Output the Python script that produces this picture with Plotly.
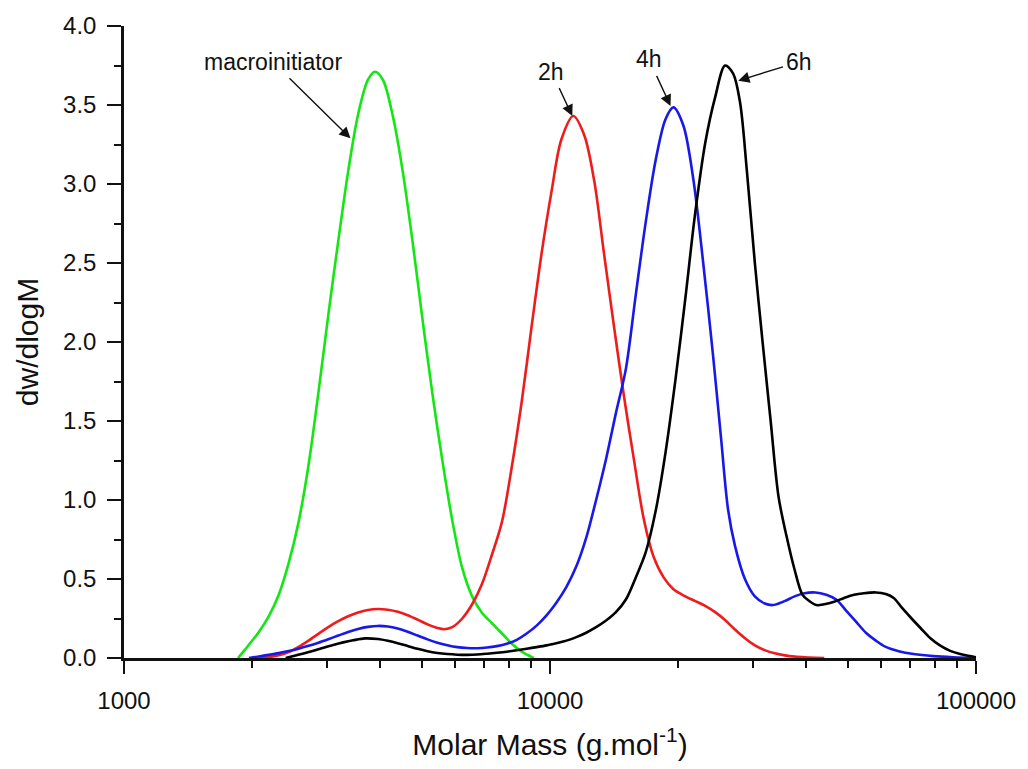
import plotly.graph_objects as go

# ---------------- data ----------------
M_macro = [1852, 1913, 1965, 2073, 2188, 2308, 2435, 2569, 2711, 2860, 3017, 3184, 3359,
           3544, 3739, 3881, 4052, 4276, 4511, 4760, 5022, 5298, 5589, 5897, 6222,
           6565, 6927, 7309, 7710, 8135, 8580, 9154]
w_macro = [0.0, 0.045, 0.085, 0.165, 0.265, 0.40, 0.60, 0.86, 1.22, 1.68, 2.17, 2.64, 3.08,
           3.44, 3.66, 3.71, 3.66, 3.43, 3.08, 2.63, 2.14, 1.67, 1.25, 0.87, 0.57,
           0.39, 0.285, 0.22, 0.155, 0.09, 0.04, 0.0]

M_2h = [2073, 2188, 2308, 2435, 2569, 2711, 2860, 3017, 3184, 3359, 3544, 3739, 3945,
        4162, 4391, 4633, 4888, 5158, 5441, 5649, 5897, 6222, 6565, 6927, 7309, 7710,
        8135, 8580, 9056, 9555, 10080, 10630, 11340, 12030, 12700, 13390, 14130, 14910,
        15730, 16600, 17510, 18480, 19490, 20790, 21930, 23140, 24420, 25760, 27180,
        28680, 30260, 31920, 33690, 36500, 40630, 44040]
w_2h = [0.0, 0.006, 0.017, 0.037, 0.07, 0.11, 0.153, 0.196, 0.233, 0.264, 0.288, 0.304, 0.31,
        0.305, 0.292, 0.271, 0.243, 0.213, 0.19, 0.182, 0.195, 0.25, 0.34, 0.47, 0.655, 0.86,
        1.21, 1.62, 2.10, 2.56, 2.95, 3.28, 3.43, 3.31, 3.02, 2.56, 2.10, 1.66,
        1.26, 0.88, 0.64, 0.51, 0.435, 0.39, 0.36, 0.33, 0.29, 0.24, 0.18,
        0.125, 0.08, 0.05, 0.03, 0.012, 0.003, 0.0]

M_4h = [1965, 2073, 2188, 2308, 2435, 2569, 2711, 2860, 3017, 3184, 3359, 3544, 3739, 3945,
        4162, 4391, 4633, 4888, 5158, 5441, 5741, 6058, 6391, 6744, 7115, 7506, 7919,
        8356, 8816, 9302, 9814, 10350, 10930, 11530, 12160, 12830, 13540, 14280, 15070,
        15900, 16780, 17700, 18670, 19490, 20560, 21700, 22890, 24150, 25210, 26180,
        27180, 28680, 30260, 31920, 33320, 35530, 37500, 39560, 41970, 44510, 46960,
        49550, 52280, 55150, 58190, 61400, 65840, 71360, 79430, 88430, 100000]
w_4h = [0.0, 0.01, 0.02, 0.031, 0.044, 0.059, 0.077, 0.097, 0.119, 0.142, 0.165, 0.184, 0.197, 0.203,
        0.199, 0.186, 0.166, 0.142, 0.118, 0.097, 0.081, 0.069, 0.063, 0.062, 0.066, 0.075, 0.09,
        0.115, 0.155, 0.205, 0.27, 0.35, 0.45, 0.58, 0.76, 1.00, 1.26, 1.55, 1.83,
        2.30, 2.76, 3.15, 3.41, 3.485, 3.37, 3.03, 2.50, 1.91, 1.39, 0.94,
        0.71, 0.50, 0.39, 0.345, 0.335, 0.36, 0.39, 0.41, 0.415, 0.40, 0.37,
        0.30, 0.23, 0.16, 0.11, 0.07, 0.043, 0.025, 0.012, 0.005, 0.0]

M_6h = [2396, 2501, 2639, 2785, 2938, 3099, 3270, 3450, 3679, 3945, 4162, 4391, 4633, 4888,
        5158, 5441, 5741, 6058, 6391, 6744, 7115, 7506, 7919, 8356, 8816, 9302, 9814,
        10350, 10930, 11530, 12160, 12830, 13540, 14280, 15070, 15900, 16780, 17700,
        18670, 19700, 20790, 21930, 23140, 24420, 25760, 26890, 27920, 28990, 30260,
        31580, 32960, 34400, 35920, 37500, 39140, 40630, 42190, 44040, 46460, 49020,
        51720, 54570, 58190, 61400, 64100, 66900, 70600, 74090, 78170, 82450, 87000,
        91790, 96830, 100000]
w_6h = [0.0, 0.012, 0.028, 0.046, 0.065, 0.083, 0.099, 0.112, 0.124, 0.12, 0.109, 0.094, 0.076, 0.058,
        0.043, 0.032, 0.025, 0.021, 0.02, 0.022, 0.027, 0.033, 0.04, 0.049, 0.059, 0.069, 0.08,
        0.094, 0.11, 0.132, 0.16, 0.195, 0.237, 0.29, 0.37, 0.51, 0.67, 0.93,
        1.30, 1.76, 2.28, 2.82, 3.26, 3.55, 3.75, 3.70, 3.52, 3.08, 2.50,
        1.99, 1.50, 1.02, 0.77, 0.56, 0.40, 0.36, 0.335, 0.34, 0.356, 0.38,
        0.40, 0.41, 0.415, 0.405, 0.38, 0.32, 0.25, 0.19, 0.125, 0.078, 0.045,
        0.025, 0.012, 0.005]

x_major_ticks = [1000, 10000, 100000]
x_major_text = ["1000", "10000", "100000"]
x_minor_ticks = [k * d for d in (1000, 10000) for k in range(2, 10)]

series = [
    ("macroinitiator", M_macro, w_macro, "#14e614"),
    ("2h", M_2h, w_2h, "#ee1c1c"),
    ("4h", M_4h, w_4h, "#1818e8"),
    ("6h", M_6h, w_6h, "#000000"),
]

FONT = "Liberation Sans, Arial, sans-serif"

fig = go.Figure()
for name, xs, ys, col in series:
    fig.add_trace(go.Scatter(x=xs, y=ys, mode="lines", name=name,
                             line=dict(color=col, width=2.6, shape="spline", smoothing=0.9)))

# labels with arrows: (text, arrow tip log10(M), tip y, label log10(M), label y)
labels = [
    ("macroinitiator", 3.5316, 3.289, 3.3492, 3.774),
    ("2h", 4.0524, 3.430, 4.0035, 3.711),
    ("4h", 4.2829, 3.494, 4.2324, 3.789),
    ("6h", 4.4419, 3.654, 4.5856, 3.774),
]
annotations = []
for t, tx, ty, lx, ly in labels:
    annotations.append(dict(x=tx, y=ty, xref="x", yref="y", ax=lx, ay=ly,
                            axref="x", ayref="y", text=t, showarrow=True,
                            arrowhead=2, arrowsize=1.6, arrowwidth=1.4,
                            arrowcolor="#111111", standoff=0, borderpad=3,
                            font=dict(family=FONT, size=23, color="#111111")))

fig.update_layout(
    width=1028, height=769,
    margin=dict(l=124, r=45, t=26, b=111, pad=0),
    paper_bgcolor="white", plot_bgcolor="white",
    showlegend=False,
    font=dict(family=FONT, color="#111111"),
    annotations=annotations,
)
fig.update_xaxes(
    type="log", range=[3, 5],
    showline=True, linecolor="#111111", linewidth=2.5,
    showgrid=False, zeroline=False,
    tickmode="array", tickvals=x_major_ticks, ticktext=x_major_text,
    ticks="outside", ticklen=13, tickwidth=2, tickcolor="#111111",
    tickfont=dict(size=24, family=FONT, color="#111111"),
    ticklabelstandoff=6,
    minor=dict(tickmode="array", tickvals=x_minor_ticks, ticks="outside",
               ticklen=7, tickwidth=2, tickcolor="#111111", showgrid=False),
    title=dict(text="Molar Mass (g.mol<sup>-1</sup>)", standoff=22,
               font=dict(size=30, family=FONT, color="#111111")),
)
fig.update_yaxes(
    range=[0, 4],
    showline=True, linecolor="#111111", linewidth=2.5,
    showgrid=False, zeroline=False,
    dtick=0.5, tick0=0, tickformat=".1f",
    ticks="outside", ticklen=14, tickwidth=2, tickcolor="#111111",
    tickfont=dict(size=24, family=FONT, color="#111111"),
    ticklabelstandoff=6,
    minor=dict(dtick=0.25, ticks="outside", ticklen=7, tickwidth=2,
               tickcolor="#111111", showgrid=False),
    title=dict(text="dw/dlogM", standoff=16,
               font=dict(size=30, family=FONT, color="#111111")),
)

fig.write_html("out.html")
